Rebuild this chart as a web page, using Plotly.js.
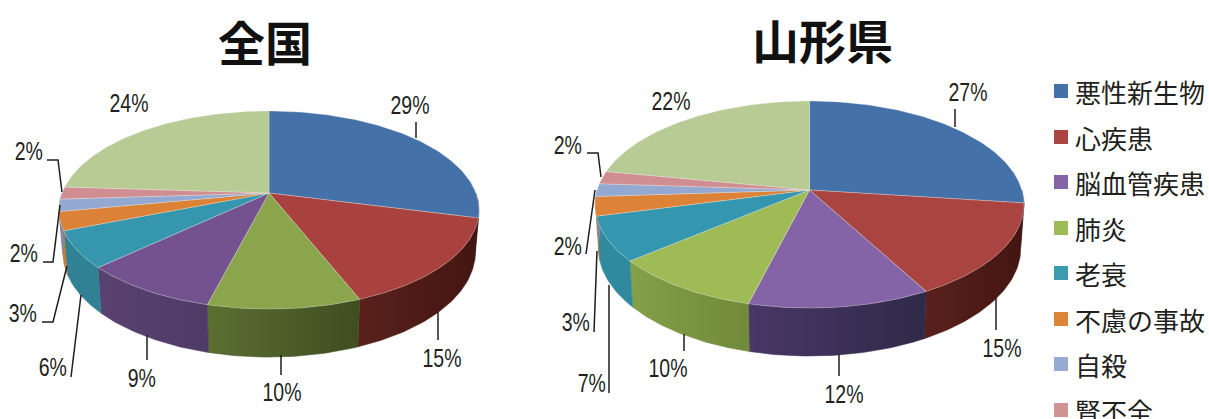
<!DOCTYPE html>
<html><head><meta charset="utf-8">
<script src="https://cdn.plot.ly/plotly-3.0.1.min.js"></script>
<style>html,body{margin:0;padding:0;background:#fff}</style></head>
<body><div id="chart" style="width:1209px;height:419px"></div>
<script>
// ---- data ----
const causes = ['悪性新生物','心疾患','脳血管疾患','肺炎','老衰','不慮の事故','自殺','腎不全','その他'];
const legendColors = ['#4472a8','#aa4542','#8463a6','#9fbb58','#3d9bb0','#dc8538','#97abd2','#d09494'];

const nationalTitle = '全国';
const nationalValues = [29,15,10,9,6,3,2,2,24];
const nationalTop = ['#4571a9','#a9423f','#8aa54b','#73528f','#3596ad','#dc8237','#93a9d2','#d18e92','#b9cb95'];
const nationalWallL = ['#2b4668','#5a211c','#5b6f32','#594270','#2f8193','#c77a35','#7a8cb0','#a87474','#8a9a6c'];
const nationalWallR = ['#2b4668','#431511','#3f4d20','#4f3a68','#2f8193','#c77a35','#7a8cb0','#a87474','#8a9a6c'];

const yamagataTitle = '山形県';
const yamagataValues = [27,15,12,10,7,3,2,2,22];
const yamagataTop = ['#4571a9','#aa4441','#8463a6','#9fbb56','#3596b0','#dd8338','#93a9d2','#d18e92','#b9cb95'];
const yamagataWallL = ['#2b4668','#5a211c','#4a3668','#84a048','#2f8aa0','#c77a35','#7a8cb0','#a87474','#8a9a6c'];
const yamagataWallR = ['#2b4668','#431511','#2f2a48','#708a3a','#2f8aa0','#c77a35','#7a8cb0','#a87474','#8a9a6c'];

// ---- layout of each pie: apex, projection, depth, labels ----
const nationalGeom = {x0:269,y0:193,b:206.9,a:96.1,k:0.172,s:0.982,d:41.5,
  labels:[[410,105],[442,358],[282,392],[142,378],[53,367],[23,313],[24,253],[29,151],[129,103]],
  leaders:[[[416,122],[416,138]],[[438,312],[438,340]],[[281,355],[281,375]],[[147,335],[147,360]],
    [[81,295],[71,377]],[[67,266],[53,322],[42,322]],[[60,205],[53,262],[43,262]],[[62,192],[58,160],[47,160]],null]};
const yamagataGeom = {x0:809.5,y0:190,b:212.4,a:101.5,k:0.14,s:0.985,d:42.8,
  labels:[[968,92],[1002,348],[844,394],[668,368],[592,383],[576,322],[568,246],[568,145],[671,101]],
  leaders:[[[955,109],[955,127]],[[996,298],[996,330]],[[839,355],[839,376]],[[684,334],[684,351]],
    [[609,285],[609,393]],[[597,251],[594,332]],[[595,190],[586,254]],[[601,177],[598,153],[587,153]],null]};

const traces = [], annotations = [];

function project(g, deg, lower){
  const t = deg*Math.PI/180, u = Math.sin(t), v = Math.cos(t), w = 1+g.k*v;
  const s = lower ? g.s : 1;
  return [g.x0 + s*g.b*u/w, g.y0 - s*g.a*v/w + (lower ? g.d/w : 0)];
}
function poly(pts, extra){
  traces.push(Object.assign({type:'scatter',mode:'lines',x:pts.map(p=>p[0]),y:pts.map(p=>p[1]),
    fill:'toself',showlegend:false,hoverinfo:'skip'},extra));
}
function arc(a,b){ const out=[]; const n=Math.max(2,Math.ceil(Math.abs(b-a))); for(let i=0;i<=n;i++) out.push(a+(b-a)*i/n); return out; }

function drawPie(g, values, tops, wallL, wallR){
  const total = values.reduce((p,c)=>p+c,0);
  let cum = 0; const ranges = values.map(v=>{const r=[cum/total*360,(cum+v)/total*360];cum+=v;return r;});
  ranges.forEach((r,i)=>{
    const a=Math.max(r[0],90), b=Math.min(r[1],270);
    if(b<=a) return;
    const as=arc(a,b);
    const pts=as.map(d=>project(g,d,false)).concat(as.slice().reverse().map(d=>project(g,d,true)));
    pts.push(pts[0]);
    poly(pts,{line:{width:0.5,color:wallR[i]},fillcolor:wallL[i],
      fillgradient:{type:'horizontal',colorscale:[[0,wallL[i]],[1,wallR[i]]]}});
  });
  ranges.forEach((r,i)=>{
    const pts=[[g.x0,g.y0]].concat(arc(r[0],r[1]).map(d=>project(g,d,false)));
    pts.push([g.x0,g.y0]);
    poly(pts,{line:{width:0.6,color:'rgba(235,235,225,0.55)'},fillcolor:tops[i]});
  });
  g.leaders.forEach(l=>{
    if(!l) return;
    traces.push({type:'scatter',mode:'lines',x:l.map(p=>p[0]),y:l.map(p=>p[1]),showlegend:false,hoverinfo:'skip',
      line:{color:'#1e1e1e',width:1.5}});
  });
  values.forEach((v,i)=>{
    annotations.push({x:g.labels[i][0],y:g.labels[i][1],xref:'x',yref:'y',text:v+'%',showarrow:false,
      xanchor:'center',yanchor:'middle',font:{family:'"Liberation Sans"',size:26,color:'#231f20'}});
  });
}
drawPie(nationalGeom,nationalValues,nationalTop,nationalWallL,nationalWallR);
drawPie(yamagataGeom,yamagataValues,yamagataTop,yamagataWallL,yamagataWallR);

// titles
[[nationalTitle,265,40],[yamagataTitle,822,38]].forEach(t=>{
  annotations.push({x:t[1],y:t[2],xref:'x',yref:'y',text:t[0],showarrow:false,xanchor:'center',yanchor:'middle',
    font:{family:'"Noto Sans CJK JP"',size:47,weight:700,color:'#111'}});
});

// legend
const legendY = [91,137,182,228,273,319,364,410];
const legendNames = causes.slice(0,8);
traces.push({type:'scatter',mode:'markers',x:legendY.map(()=>1061),y:legendY,showlegend:false,hoverinfo:'skip',
  marker:{symbol:'square',size:14,color:legendColors,line:{width:0}}});
legendNames.forEach((n,i)=>{
  annotations.push({x:1073,y:legendY[i],xref:'x',yref:'y',text:n,showarrow:false,xanchor:'left',yanchor:'middle',
    font:{family:'"Noto Sans CJK JP"',size:26,color:'#231f20'}});
});

Plotly.newPlot('chart',traces,{
  width:1209,height:419,autosize:false,margin:{l:0,r:0,t:0,b:0,pad:0},
  paper_bgcolor:'#fff',plot_bgcolor:'#fff',showlegend:false,
  xaxis:{range:[0,1209],visible:false,fixedrange:true},
  yaxis:{range:[419,0],visible:false,fixedrange:true},
  annotations:annotations
},{displayModeBar:false,staticPlot:true}).then(()=>{
  // the percentage labels are set in a condensed face: narrow them horizontally
  document.querySelectorAll('.annotation-text').forEach(t=>{
    if(!t.textContent.endsWith('%')) return;
    const b=t.getBBox(), cx=b.x+b.width/2;
    t.setAttribute('transform','translate('+cx+' 0) scale(0.75 1) translate('+(-cx)+' 0)');
  });
});
</script></body></html>
